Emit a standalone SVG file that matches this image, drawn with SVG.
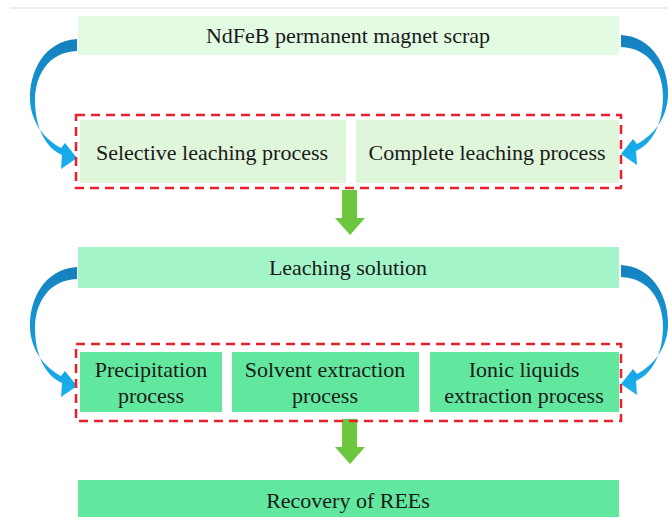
<svg xmlns="http://www.w3.org/2000/svg" width="668" height="517" viewBox="0 0 668 517">
<defs>
<linearGradient id="bg" x1="0" y1="0" x2="0" y2="1">
<stop offset="0" stop-color="#1580bd"/>
<stop offset="1" stop-color="#18b0ef"/>
</linearGradient>
<path id="curve" d="M77,39 C44,41 29,72 30,100 C31,122 44,139 61,148 L65,143 L77,158 L61,169 L62,155 C46,148 35,128 35,100 C35,76 48,52 77,51 Z" fill="url(#bg)"/>
<path id="down" d="M342,0 H357 V28 H365 L350,45 L335,28 H342 Z" fill="#6cc63e"/>
</defs>
<style>
.t{font-family:'Liberation Serif','Times New Roman','DejaVu Serif',serif;font-size:22px;fill:#1a1a1a;text-anchor:middle}
.dash{fill:none;stroke:#e8202a;stroke-width:2.5;stroke-dasharray:9,6}
.l1{fill:#e3fae3}
.l2{fill:#dff6da}
.l3{fill:#a3f5c9}
.l4{fill:#62e89e}
</style>
<rect width="668" height="517" fill="#ffffff"/>
<line x1="10" y1="8" x2="668" y2="8" stroke="#e6e6e6" stroke-width="1.5"/>
<g id="connectors">
<use href="#curve"/>
<use href="#curve" transform="matrix(-1,0,0,1,698,-4)"/>
<use href="#curve" transform="translate(0,228)"/>
<use href="#curve" transform="matrix(-1,0,0,1,698,226)"/>
<use href="#down" transform="translate(0,190)"/>
<use href="#down" transform="translate(0,419)"/>
</g>
<g id="scrap">
<rect class="l1" x="78" y="16" width="541" height="39"/>
<text class="t" x="348" y="43" font-family="Liberation Serif, serif">NdFeB permanent magnet scrap</text>
</g>
<g id="group1">
<rect class="dash" x="76" y="115" width="545" height="73"/>
</g>
<g id="selective">
<rect class="l2" x="80" y="120" width="266" height="63"/>
<text class="t" x="212" y="160">Selective leaching process</text>
</g>
<g id="complete">
<rect class="l2" x="356" y="120" width="263" height="63"/>
<text class="t" x="487" y="160">Complete leaching process</text>
</g>
<g id="solution">
<rect class="l3" x="78" y="247" width="541" height="41"/>
<text class="t" x="348" y="275">Leaching solution</text>
</g>
<g id="group2">
<rect class="dash" x="76" y="344" width="545" height="77"/>
</g>
<g id="precipitation">
<rect class="l4" x="80" y="352" width="142" height="60"/>
<text class="t" x="151" y="377">Precipitation</text>
<text class="t" x="151" y="403">process</text>
</g>
<g id="solvent">
<rect class="l4" x="232" y="352" width="187" height="60"/>
<text class="t" x="325" y="377">Solvent extraction</text>
<text class="t" x="325" y="403">process</text>
</g>
<g id="ionic">
<rect class="l4" x="430" y="352" width="189" height="60"/>
<text class="t" x="524" y="377">Ionic liquids</text>
<text class="t" x="524" y="403">extraction process</text>
</g>
<g id="recovery">
<rect class="l4" x="78" y="480" width="541" height="40"/>
<text class="t" x="348" y="508">Recovery of REEs</text>
</g>
</svg>
